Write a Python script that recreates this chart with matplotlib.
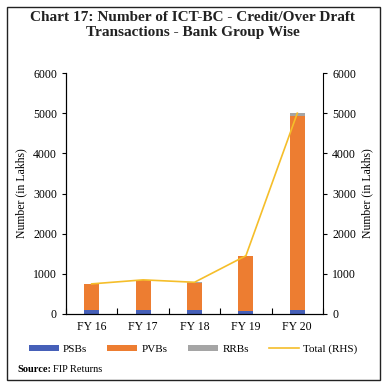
import numpy as np
import matplotlib
matplotlib.use("Agg")
import matplotlib.pyplot as plt
from matplotlib.patches import Rectangle

years = ["FY 16", "FY 17", "FY 18", "FY 19", "FY 20"]
psbs = [100, 100, 110, 80, 90]
pvbs = [640, 740, 670, 1360, 4850]
rrbs = [10, 10, 10, 10, 60]
total = [750, 850, 790, 1450, 5000]

plt.rcParams['font.family'] = ['Liberation Serif', 'DejaVu Serif']

fig = plt.figure(figsize=(3.86, 3.87), dpi=100)
ax = fig.add_axes([66 / 386, 1 - 314 / 387, 257 / 386, 241 / 387])

x = np.arange(len(years))
w = 0.29
ax.bar(x, psbs, w, color='#4660B8', label='PSBs')
ax.bar(x, pvbs, w, bottom=psbs, color='#ED7D31', label='PVBs')
ax.bar(x, rrbs, w, bottom=np.array(psbs) + np.array(pvbs), color='#A5A5A5', label='RRBs')

ax2 = ax.twinx()
ax2.plot(x, total, color='#F5BE2A', lw=1.2, label='Total (RHS)')

for a in (ax, ax2):
    a.set_ylim(0, 6000)
    a.set_yticks(range(0, 6001, 1000))
    a.tick_params(labelsize=8.5, length=3, width=0.8)
    a.spines['top'].set_visible(False)
ax.spines['right'].set_visible(False)
ax.set_xlim(-0.5, 4.5)
ax.set_xticks(np.arange(-0.5, 5, 1), minor=False)
ax.set_xticklabels([])
ax.set_xticks(x, minor=True)
ax.set_xticklabels(years, minor=True)
ax.tick_params(axis='x', which='minor', length=0, labelsize=8.5, pad=5)
ax.tick_params(axis='x', which='major', length=4, direction='in')
ax.set_ylabel('Number (in Lakhs)', fontsize=8.5)
ax2.set_ylabel('Number (in Lakhs)', fontsize=8.5)

fig.text(0.5, 0.935, 'Chart 17: Number of ICT-BC - Credit/Over Draft\nTransactions - Bank Group Wise',
         ha='center', va='center', fontsize=11, fontweight='bold', color='#222222', linespacing=1.2)

h1, l1 = ax.get_legend_handles_labels()
h2, l2 = ax2.get_legend_handles_labels()
fig.legend(h1 + h2, l1 + l2, loc='center', bbox_to_anchor=(0.5, 0.098), ncol=4, frameon=False,
           fontsize=8, handlelength=2.7, handleheight=0.5, columnspacing=1.8, handletextpad=0.4)

fig.text(17 / 386, 1 - 369 / 387, 'Source:', fontsize=7.5, va='center', fontweight='bold')
fig.text(53 / 386, 1 - 369 / 387, 'FIP Returns', fontsize=7.5, va='center')

fig.patches.append(Rectangle((7 / 386, 7 / 387), 373 / 386, 373 / 387, transform=fig.transFigure,
                             fill=False, lw=1, ec='#222222'))

fig.savefig('out.png', dpi=100)
